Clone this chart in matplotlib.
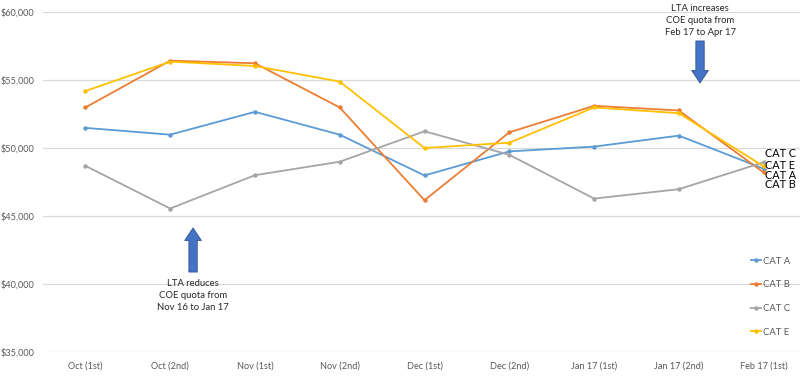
import matplotlib
matplotlib.use("Agg")
import matplotlib.pyplot as plt
from matplotlib.ticker import FuncFormatter

plt.rcParams["font.family"] = ["Lato", "DejaVu Sans"]

periods = ["Oct (1st)", "Oct (2nd)", "Nov (1st)", "Nov (2nd)", "Dec (1st)",
           "Dec (2nd)", "Jan 17 (1st)", "Jan 17 (2nd)", "Feb 17 (1st)"]
cat_a = [51480, 50980, 52660, 50980, 47980, 49750, 50100, 50910, 48480]
cat_b = [52980, 56420, 56230, 52980, 46160, 51150, 53100, 52760, 48200]
cat_c = [48690, 45550, 48000, 48990, 51230, 49500, 46280, 46970, 48950]
cat_e = [54190, 56350, 56030, 54880, 50000, 50390, 52980, 52560, 48650]

series = [
    ("CAT A", cat_a, "#5B9BD5"),
    ("CAT B", cat_b, "#ED7D31"),
    ("CAT C", cat_c, "#A5A5A5"),
    ("CAT E", cat_e, "#FFC000"),
]

W, H = 800, 379
fig = plt.figure(figsize=(W / 100, H / 100), dpi=100)
# plot area in pixels: x 43..806 (cropped at right), y 12..352
ax = fig.add_axes([43 / W, (H - 352) / H, 763 / W, 340 / H])

x = list(range(len(periods)))
for name, vals, col in series:
    ax.plot(x, vals, color=col, linewidth=1.3, marker="o", markersize=2.2,
            label=name, zorder=3)

ax.set_xlim(-0.5, len(periods) - 0.5)
ax.set_ylim(35000, 60000)
ax.set_yticks(range(35000, 60001, 5000))
ax.yaxis.set_major_formatter(FuncFormatter(lambda v, p: f"${v:,.0f}"))
ax.set_xticks(x)
ax.set_xticklabels(periods)
ax.tick_params(axis="both", length=0, labelsize=6.6, colors="#595959")
ax.tick_params(axis="y", pad=6)
ax.tick_params(axis="x", pad=7)
ax.grid(axis="y", color="#D9D9D9", linewidth=0.9)
ax.set_axisbelow(True)
for s in ax.spines.values():
    s.set_visible(False)

# end-of-line labels
end_labels = [("CAT C", 49560), ("CAT E", 48750), ("CAT A", 48010), ("CAT B", 47280)]
for lab, yv in end_labels:
    ax.text(8.02, yv, lab, fontsize=7.8, color="#000000", va="center", ha="left",
            clip_on=False)

# annotations
arrow_kw = dict(arrowstyle="simple,head_length=0.45,head_width=0.6,tail_width=0.3",
                fc="#4472C4", ec="#2F528F", lw=0.6, mutation_scale=20,
                shrinkA=0, shrinkB=0)
ax.annotate("", xy=(7.25, 54780), xytext=(7.25, 57870), arrowprops=arrow_kw)
ax.annotate("", xy=(1.27, 44120), xytext=(1.27, 40880), arrowprops=arrow_kw)
ax.text(7.25, 60620, "LTA increases\nCOE quota from\nFeb 17 to Apr 17",
        ha="center", va="top", fontsize=6.8, color="#262626", linespacing=1.45)
ax.text(1.27, 40400, "LTA reduces\nCOE quota from\nNov 16 to Jan 17",
        ha="center", va="top", fontsize=6.8, color="#262626", linespacing=1.45)

ax.legend(loc="upper left", bbox_to_anchor=(746 / W, 1 - 252 / H),
          bbox_transform=fig.transFigure, frameon=False, fontsize=6.8,
          handlelength=1.1, handletextpad=0.2, labelspacing=1.55, borderpad=0,
          labelcolor="#595959")

fig.savefig("out.png", dpi=100)
